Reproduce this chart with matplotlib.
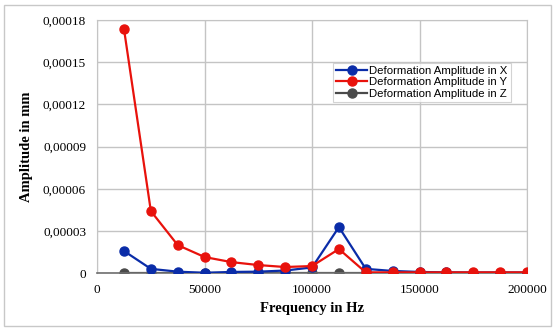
import matplotlib
matplotlib.use("Agg")
import matplotlib.pyplot as plt
from matplotlib.patches import Rectangle
from matplotlib.ticker import FuncFormatter, MultipleLocator

freq = [12500, 25000, 37500, 50000, 62500, 75000, 87500, 100000,
        112500, 125000, 137500, 150000, 162500, 175000, 187500, 200000]
amp_x = [1.57e-5, 3.0e-6, 1.0e-6, 2e-7, 8e-7, 1.0e-6, 1.8e-6, 4.0e-6,
         3.27e-5, 3.0e-6, 1.5e-6, 8e-7, 5e-7, 4e-7, 4e-7, 4e-7]
amp_y = [1.736e-4, 4.41e-5, 1.99e-5, 1.14e-5, 7.8e-6, 5.7e-6, 4.3e-6, 5.0e-6,
         1.71e-5, 5e-7, 5e-7, 5e-7, 5e-7, 5e-7, 5e-7, 5e-7]
amp_z = [0.0] * 16

fig = plt.figure(figsize=(5.55, 3.29), dpi=100)
ax = fig.add_axes([0.175, 0.170, 0.7745, 0.769])

# outer chart border
fig.patches.append(Rectangle((0.008, 0.01), 0.984, 0.975, transform=fig.transFigure,
                             fill=False, edgecolor="#c8c8c8", lw=1.0))

ax.plot(freq, amp_x, "o-", color="#0a2ca8", lw=1.6, ms=6.5, label="Deformation Amplitude in X", zorder=3)
ax.plot(freq, amp_y, "o-", color="#e8120c", lw=1.6, ms=6.5, label="Deformation Amplitude in Y", zorder=4)
ax.plot(freq, amp_z, "o-", color="#4a4a4a", lw=1.6, ms=6.5, label="Deformation Amplitude in Z", zorder=2)

ax.set_xlim(0, 200000)
ax.set_ylim(0, 0.00018)
ax.xaxis.set_major_locator(MultipleLocator(50000))
ax.yaxis.set_major_locator(MultipleLocator(0.00003))


def yfmt(v, pos):
    if abs(v) < 1e-12:
        return "0"
    return f"{v:.5f}".replace(".", ",")


ax.yaxis.set_major_formatter(FuncFormatter(yfmt))
ax.xaxis.set_major_formatter(FuncFormatter(lambda v, p: f"{int(round(v))}"))

ax.grid(True, color="#c4c4c4", lw=1.0)
ax.set_axisbelow(True)
for s in ("top", "right", "left"):
    ax.spines[s].set_color("#c4c4c4")
ax.spines["bottom"].set_color("#6e6e6e")
ax.spines["bottom"].set_linewidth(1.2)
ax.tick_params(length=0, pad=8, labelsize=9.5)
for lab in ax.get_xticklabels() + ax.get_yticklabels():
    lab.set_family("Liberation Serif")

ax.set_xlabel("Frequency in Hz", family="Liberation Serif", fontweight="bold", fontsize=10.5, labelpad=4)
ax.set_ylabel("Amplitude in mm", family="Liberation Serif", fontweight="bold", fontsize=10.5, labelpad=7)

leg = ax.legend(loc="upper right", bbox_to_anchor=(0.962, 0.832), prop={"family": "Liberation Sans", "size": 8.2},
                frameon=True, fancybox=False, edgecolor="#c8c8c8", handlelength=2.7, handletextpad=0.15,
                borderpad=0.3, labelspacing=0.12, borderaxespad=0)
leg.get_frame().set_linewidth(0.8)

fig.savefig("out.png", dpi=100)
